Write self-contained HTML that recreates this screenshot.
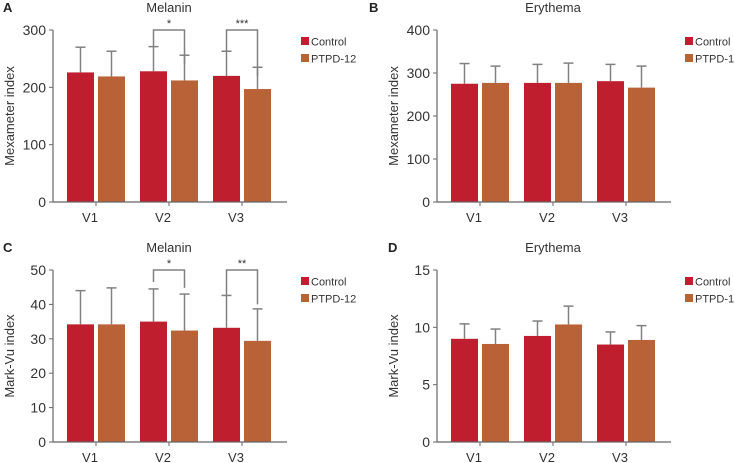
<!DOCTYPE html>
<html><head><meta charset="utf-8"><style>
body{margin:0;background:#fff;}
svg{display:block;font-family:"Liberation Sans",Arial,sans-serif;}
</style></head><body>
<svg id="c" width="734" height="463"></svg>
<script>
const categories=["V1","V2","V3"];
const aControl=[226,228,220], aControlTop=[270,271,263], aPtpd=[219,212,197], aPtpdTop=[263,256,235];
const bControl=[275,277,281], bControlTop=[322,320,320], bPtpd=[277,277,266], bPtpdTop=[316,323,316];
const cControl=[34.2,35,33.2], cControlTop=[44,44.5,42.6], cPtpd=[34.2,32.4,29.4], cPtpdTop=[44.8,43,38.7];
const dControl=[9.0,9.25,8.5], dControlTop=[10.3,10.55,9.6], dPtpd=[8.55,10.25,8.9], dPtpdTop=[9.85,11.85,10.15];
const aTicks=[0,100,200,300], bTicks=[0,100,200,300,400], cTicks=[0,10,20,30,40,50], dTicks=[0,5,10,15];
const aSig=[{g:1,label:"*",y:300,l:271,r:240},{g:2,label:"***",y:300,l:263,r:220}];
const cSig=[{g:1,label:"*",y:50,l:46.5,r:44.8},{g:2,label:"**",y:50,l:42.6,r:40}];
const NS="http://www.w3.org/2000/svg";
const svg=document.getElementById('c');
function mk(tag,attrs,parent,text){const e=document.createElementNS(NS,tag);for(const k in attrs)e.setAttribute(k,attrs[k]);if(text!=null)e.textContent=text;(parent||svg).appendChild(e);return e;}
function panel(o){
  const g=mk('g',{});
  
  
  const x0=o.ox+53, x1=o.ox+287, yTop=o.oy+30, yBot=o.oy+202, max=o.ticks[o.ticks.length-1];
  const Y=v=>yBot-(v/max)*(yBot-yTop);
  const GX=i=>o.ox+96+i*73;
  const l=mk('text',{x:o.ox+3,y:o.oy+12,'font-size':13,'font-weight':'bold',fill:'#222'},g,o.letter);
  
  const t=mk('text',{x:o.ox+169,y:o.oy+12,'font-size':13,'text-anchor':'middle',fill:'#333'},g,o.title);
  
  const yt=mk('text',{transform:`translate(${o.ox+14},${(yTop+yBot)/2}) rotate(-90)`,'font-size':13,'text-anchor':'middle',fill:'#333'},g,o.ylabel);
  
  o.ticks.forEach(v=>{
    mk('line',{x1:x0-4,x2:x0,y1:Y(v),y2:Y(v),stroke:'#666','stroke-width':1},g);
    const tl=mk('text',{x:x0-7,y:Y(v)+5,'font-size':14,'text-anchor':'end',fill:'#333'},g,String(v));
    
  });
  categories.forEach((c,i)=>{
    const cx=GX(i);
    [[o.control,o.controlTop,'#be1e2d',-29],[o.ptpd,o.ptpdTop,'#b96137',2]].forEach(([vals,tops,col,dx],s)=>{
      const bx=cx+dx, bw=27;
      const r=mk('rect',{x:bx,y:Y(vals[i]),width:bw,height:yBot-Y(vals[i]),fill:col},g);
      
      
      const m=bx+bw/2;
      mk('line',{x1:m,x2:m,y1:Y(vals[i]),y2:Y(tops[i]),stroke:'#808080','stroke-width':1.5},g);
      mk('line',{x1:m-5,x2:m+5,y1:Y(tops[i]),y2:Y(tops[i]),stroke:'#808080','stroke-width':1.5},g);
    });
    mk('line',{x1:cx,x2:cx,y1:yBot,y2:yBot+4,stroke:'#666'},g);
    const xl=mk('text',{x:cx-6,y:yBot+20,'font-size':13,'text-anchor':'middle',fill:'#333'},g,c);
    
  });
  mk('line',{x1:x0,x2:x0,y1:yTop,y2:yBot,stroke:'#666','stroke-width':1.2},g);
  mk('line',{x1:x0,x2:x1,y1:yBot,y2:yBot,stroke:'#666','stroke-width':1.2},g);
  (o.sig||[]).forEach(s=>{
    const lx=GX(s.g)-15.5, rx=GX(s.g)+15.5;
    mk('path',{d:`M${lx},${Y(s.l)}V${Y(s.y)}H${rx}V${Y(s.r)}`,fill:'none',stroke:'#808080','stroke-width':1.5},g);
    const st=mk('text',{x:(lx+rx)/2,y:Y(s.y)-3,'font-size':11,'text-anchor':'middle',fill:'#333'},g,s.label);
    
  });
  [['Control','#be1e2d'],['PTPD-12','#b96137']].forEach(([n,col],k)=>{
    const yy=o.oy+37+k*17;
    const lg=mk('g',{},g);
    
    
    mk('rect',{x:o.ox+301,y:yy,width:8,height:8,fill:col},lg);
    mk('text',{x:o.ox+311,y:yy+8.5,'font-size':11,fill:'#333'},lg,n);
  });
}
panel({name:'panel-a',ox:0,oy:0,letter:'A',title:'Melanin',ylabel:'Mexameter index',ticks:aTicks,control:aControl,controlTop:aControlTop,ptpd:aPtpd,ptpdTop:aPtpdTop,sig:aSig});
panel({name:'panel-b',ox:384,oy:0,letter:'',title:'Erythema',ylabel:'Mexameter index',ticks:bTicks,control:bControl,controlTop:bControlTop,ptpd:bPtpd,ptpdTop:bPtpdTop});
panel({name:'panel-c',ox:0,oy:240,letter:'C',title:'Melanin',ylabel:'Mark-Vu index',ticks:cTicks,control:cControl,controlTop:cControlTop,ptpd:cPtpd,ptpdTop:cPtpdTop,sig:cSig});
panel({name:'panel-d',ox:384,oy:240,letter:'',title:'Erythema',ylabel:'Mark-Vu index',ticks:dTicks,control:dControl,controlTop:dControlTop,ptpd:dPtpd,ptpdTop:dPtpdTop});
const lb=mk('text',{x:369,y:12,'font-size':13,'font-weight':'bold',fill:'#222'},svg,'B');

const ld=mk('text',{x:388,y:252,'font-size':13,'font-weight':'bold',fill:'#222'},svg,'D');

</script>
</body></html>
